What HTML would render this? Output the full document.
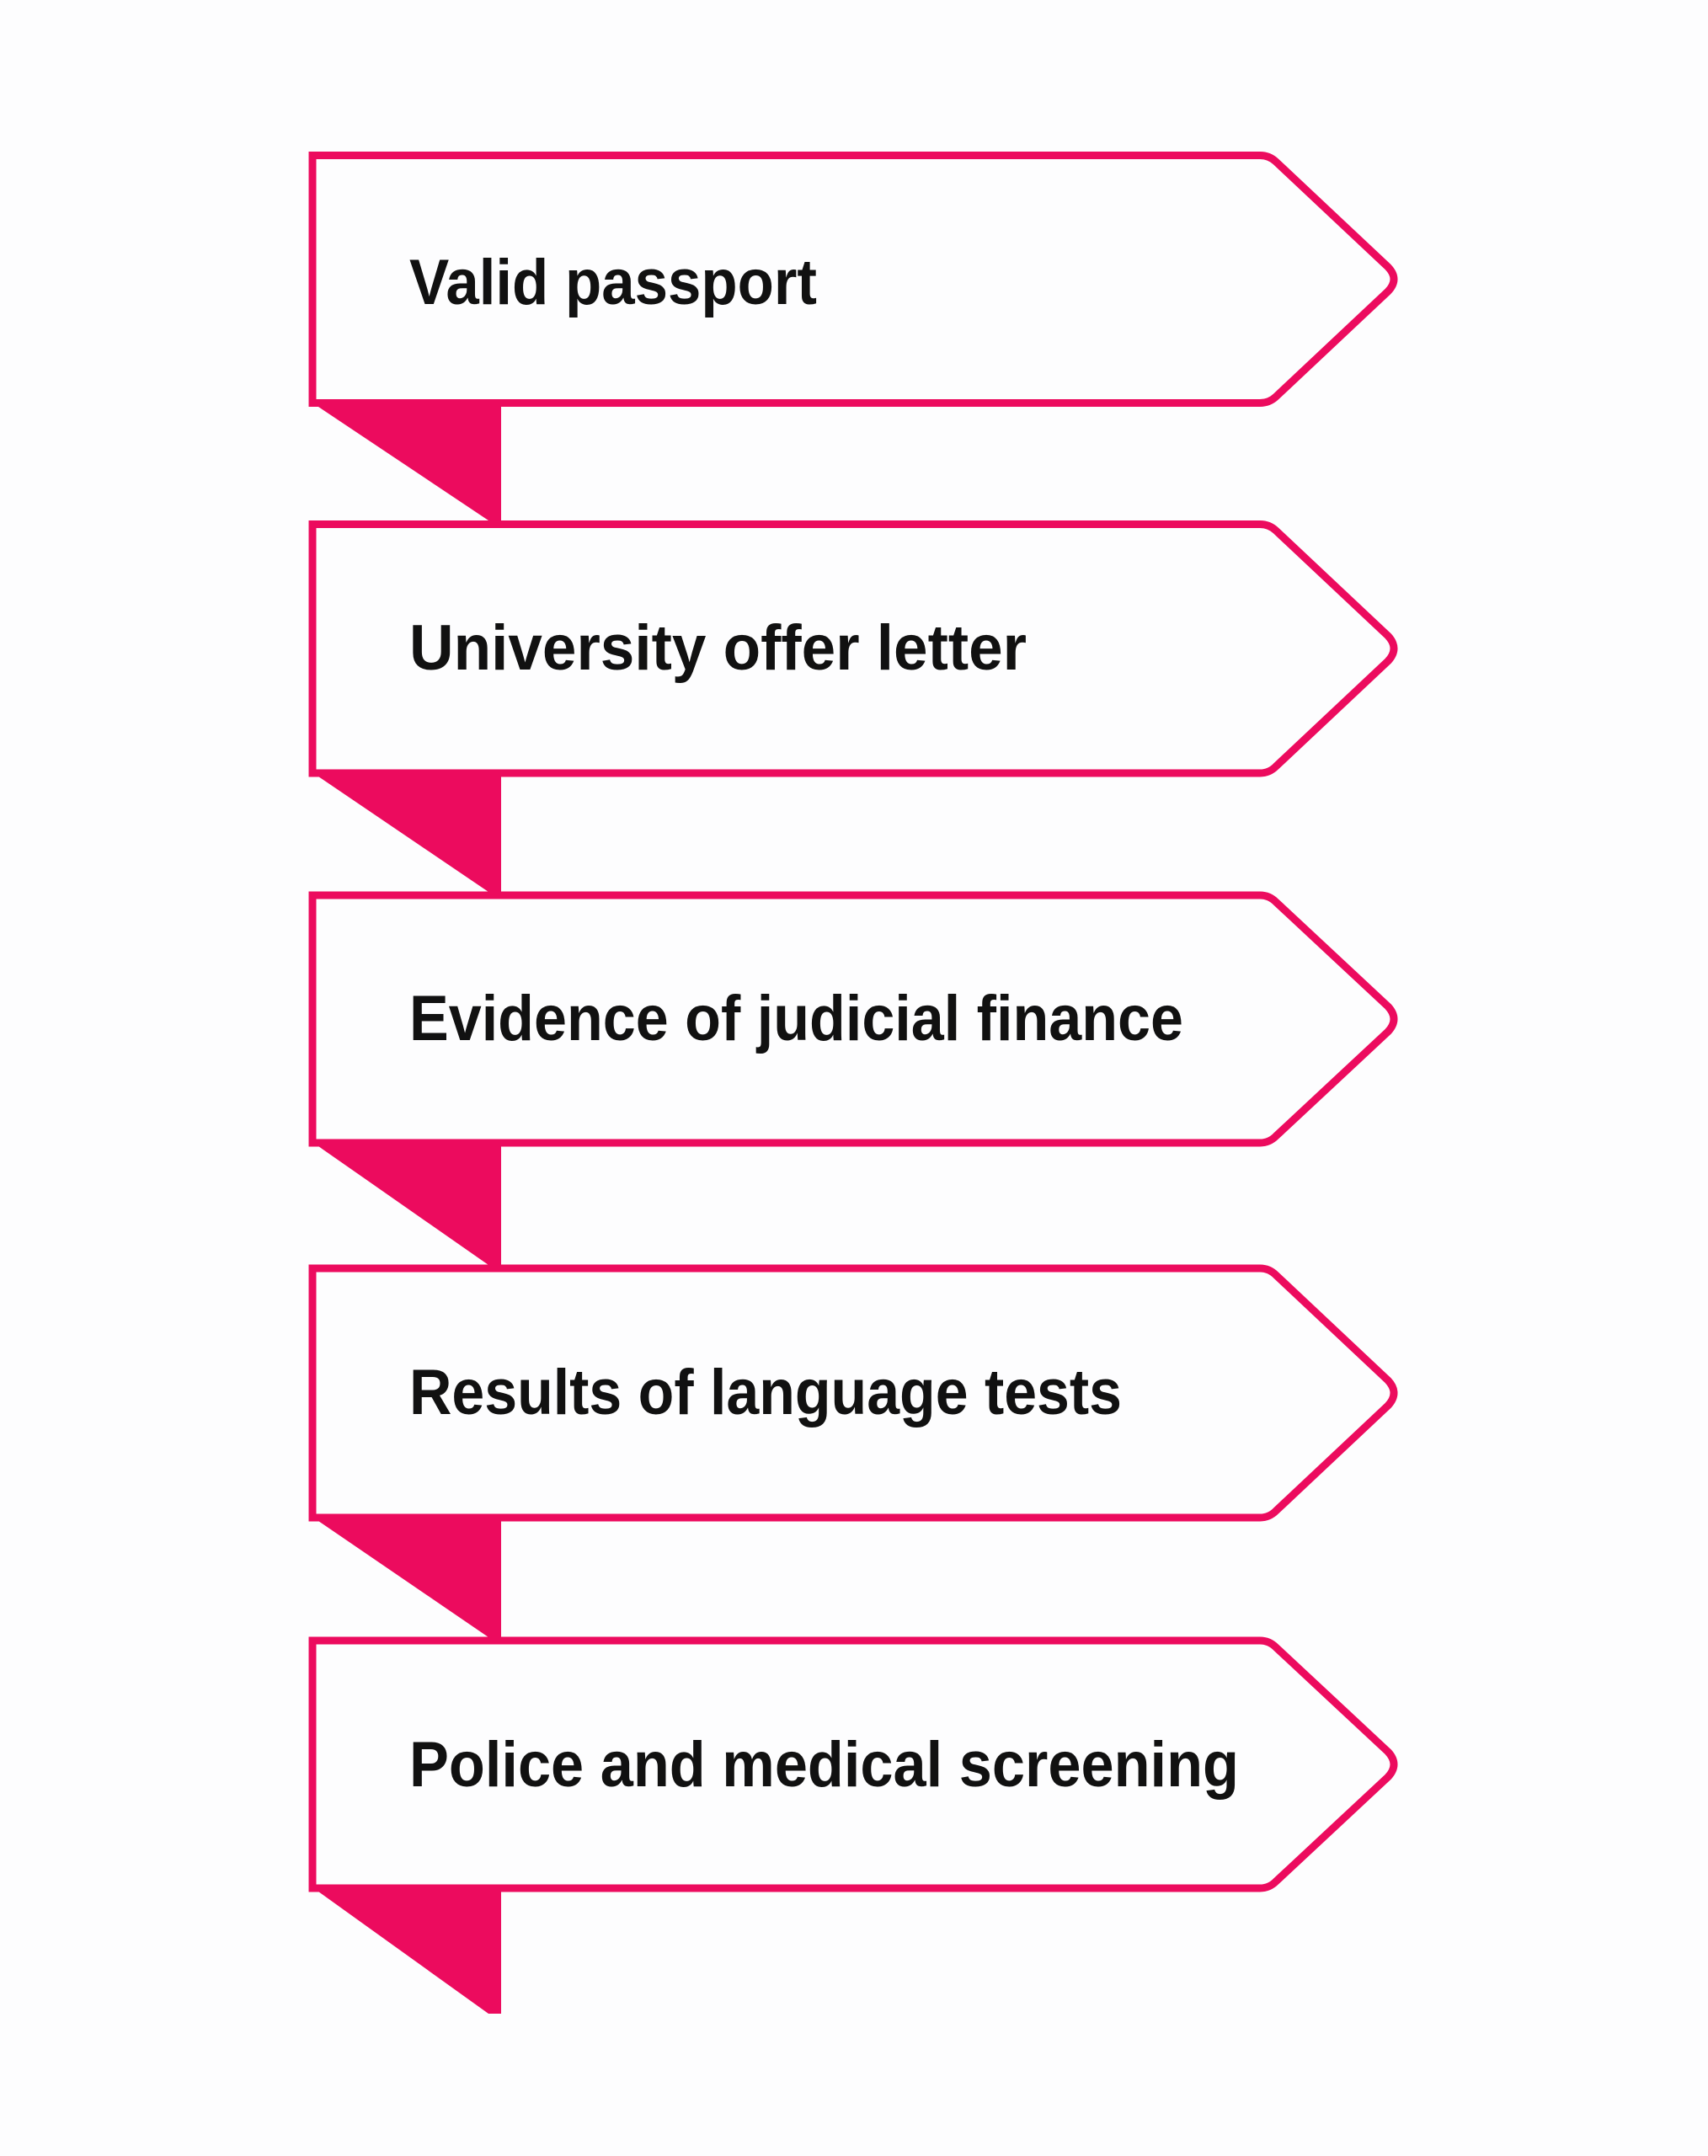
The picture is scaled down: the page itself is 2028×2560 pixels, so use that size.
<!DOCTYPE html>
<html><head><meta charset="utf-8"><style>
html,body{margin:0;padding:0;background:#fdfdfe;}
svg{display:block;}
text{font-family:"Liberation Sans",sans-serif;font-weight:bold;font-size:76px;fill:#111;}
</style></head><body>
<svg width="2028" height="2560" viewBox="0 0 2028 2560" xmlns="http://www.w3.org/2000/svg">
<rect width="2028" height="2560" fill="#fdfdfe"/>
<g fill="#ec0b5e">
<polygon points="371,483 595,483 595,618 580,618 378,483"/>
<polygon points="371,922 595,922 595,1059 580,1059 378,922"/>
<polygon points="371,1361 595,1361 595,1502 580,1502 378,1361"/>
<polygon points="371,1806 595,1806 595,1944 580,1944 378,1806"/>
<polygon points="371,2246 595,2246 595,2391 580,2391 378,2246"/>
</g>
<g fill="#fdfdfe" stroke="#ec0b5e" stroke-width="9" stroke-linejoin="miter">
<path d="M371,184.5 H1496 Q1507,184.5 1515,192 L1648,317 Q1662,331.5 1648,346 L1515,471 Q1507,478.5 1496,478.5 H371 Z"/>
<path d="M371,622.5 H1496 Q1507,622.5 1515,630 L1648,755 Q1662,770 1648,785 L1515,910 Q1507,918 1496,918 H371 Z"/>
<path d="M371,1063 H1496 Q1507,1063 1515,1071 L1648,1195 Q1662,1210 1648,1225 L1515,1349 Q1507,1357 1496,1357 H371 Z"/>
<path d="M371,1506 H1496 Q1507,1506 1515,1514 L1648,1639 Q1662,1654 1648,1669 L1515,1794 Q1507,1802 1496,1802 H371 Z"/>
<path d="M371,1948 H1496 Q1507,1948 1515,1956 L1648,2080 Q1662,2095 1648,2110 L1515,2234 Q1507,2242 1496,2242 H371 Z"/>
</g>
<text x="486" y="361" textLength="484" lengthAdjust="spacingAndGlyphs">Valid passport</text>
<text x="486" y="795" textLength="733" lengthAdjust="spacingAndGlyphs">University offer letter</text>
<text x="486" y="1235" textLength="919" lengthAdjust="spacingAndGlyphs">Evidence of judicial finance</text>
<text x="486" y="1679" textLength="846" lengthAdjust="spacingAndGlyphs">Results of language tests</text>
<text x="486" y="2121" textLength="985" lengthAdjust="spacingAndGlyphs">Police and medical screening</text>
</svg>
</body></html>
